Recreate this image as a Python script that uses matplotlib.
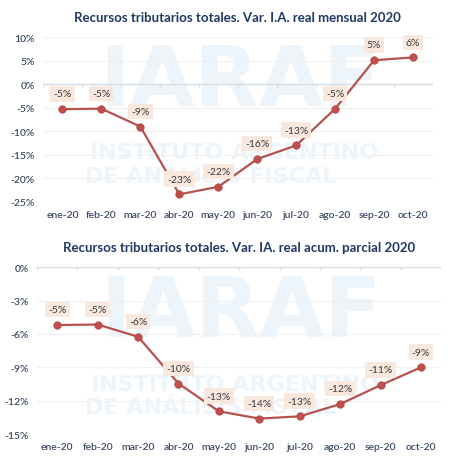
import matplotlib
matplotlib.use("Agg")
import matplotlib.pyplot as plt
import numpy as np

meses = ['ene-20', 'feb-20', 'mar-20', 'abr-20', 'may-20',
         'jun-20', 'jul-20', 'ago-20', 'sep-20', 'oct-20']
var_mensual = [-5.3, -5.2, -9.0, -23.4, -21.8, -15.9, -13.0, -5.2, 5.1, 5.7]
var_acum = [-5.2, -5.15, -6.25, -10.45, -12.95, -13.6, -13.4, -12.3, -10.6, -9.0]

titulo1 = 'Recursos tributarios totales. Var. I.A. real mensual 2020'
titulo2 = 'Recursos tributarios totales. Var. IA. real acum. parcial 2020'

plt.rcParams['font.family'] = ['Lato', 'DejaVu Sans']

col_linea = '#B5524E'
col_punto = '#C0504D'
col_texto = '#3B4A63'
col_titulo = '#1F3864'
col_caja = '#F9E8DE'
col_marca = '#EDF5FB'

fig = plt.figure(figsize=(4.52, 4.60), dpi=100)
fig.patch.set_facecolor('white')

ax1 = fig.add_axes([0.095, 0.559, 0.862, 0.358])
ax2 = fig.add_axes([0.082, 0.054, 0.894, 0.363])


def dibujar(ax, valores, ylim, paso, titulo, ticklen):
    x = np.arange(len(meses))
    ax.set_facecolor('none')
    # marca de agua
    ax.text(0.505, 0.73, 'IARAF', transform=ax.transAxes, ha='center', va='center',
            fontsize=60, fontweight='heavy', color=col_marca, zorder=0,
            family='DejaVu Sans')
    ax.text(0.49, 0.30, 'INSTITUTO ARGENTINO', transform=ax.transAxes, ha='center',
            va='center', fontsize=16, fontweight='heavy', color=col_marca, zorder=0,
            family='DejaVu Sans')
    ax.text(0.43, 0.16, 'DE ANÁLISIS FISCAL', transform=ax.transAxes, ha='center',
            va='center', fontsize=16, fontweight='heavy', color=col_marca, zorder=0,
            family='DejaVu Sans')

    ax.set_xlim(-0.5, len(meses) - 0.5)
    ax.set_ylim(*ylim)
    ticks = np.arange(ylim[0], ylim[1] + 0.1, paso)
    ax.set_yticks(ticks)
    ax.set_yticklabels(['%d%%' % t for t in ticks])
    ax.set_xticks(x)
    ax.set_xticklabels(meses)
    ax.tick_params(length=0, labelsize=7.5, colors=col_texto, pad=6)
    for lab in ax.get_xticklabels() + ax.get_yticklabels():
        lab.set_fontweight('semibold')
    for s in ax.spines.values():
        s.set_visible(False)
    ax.grid(axis='y', color='#F0F0F0', linewidth=0.8, zorder=1)
    ax.axhline(0, color='#D9DDE3', linewidth=1.0, zorder=2)
    ax.vlines(np.arange(-0.5, len(meses)), 0, -ticklen, color='#D9DDE3',
              linewidth=1.0, zorder=2)

    ax.plot(x, valores, color=col_linea, linewidth=1.6, zorder=3)
    ax.scatter(x, valores, s=28, color=col_punto, edgecolor='#B04440',
               linewidth=0.6, zorder=4)
    for xi, v in zip(x, valores):
        ax.annotate('%d%%' % round(v), (xi, v), xytext=(0, 11),
                    textcoords='offset points', ha='center', va='center',
                    fontsize=7.5, color='#3A3A3A', zorder=5,
                    bbox=dict(boxstyle='square,pad=0.3', fc=col_caja, ec='none'))
    ax.set_title(titulo, fontsize=9.5, fontweight='bold', color=col_titulo, pad=12)


dibujar(ax1, var_mensual, (-25, 10), 5, titulo1, 0.6)
dibujar(ax2, var_acum, (-15, 0), 3, titulo2, 0.25)

fig.savefig('out.png', dpi=100)
